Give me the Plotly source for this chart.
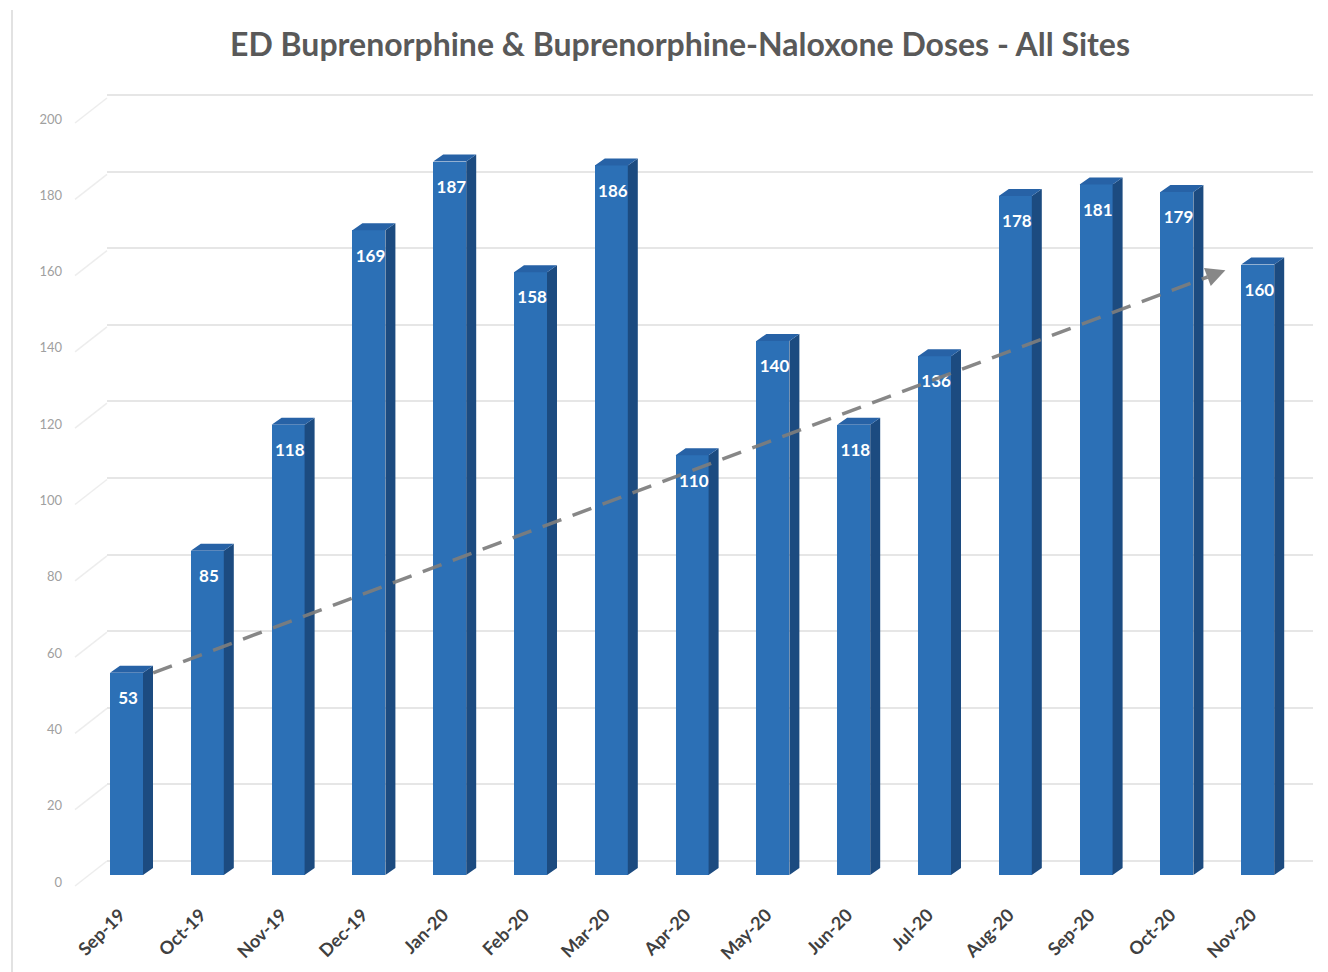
import plotly.graph_objects as go

# Monthly ED buprenorphine / buprenorphine-naloxone doses, all sites
months = ["Sep-19", "Oct-19", "Nov-19", "Dec-19", "Jan-20", "Feb-20", "Mar-20", "Apr-20",
          "May-20", "Jun-20", "Jul-20", "Aug-20", "Sep-20", "Oct-20", "Nov-20"]
doses = [53, 85, 118, 169, 187, 158, 186, 110, 140, 118, 136, 178, 181, 179, 160]
y_ticks = list(range(0, 201, 20))

W, H = 1328, 972
PLOT_L, PLOT_R, PLOT_T, PLOT_B = 107, 1313, 85, 900
FIRST_CENTER, STEP = 126.5, 80.8          # px of first bar centre, px per category
PX_PER_UNIT = 3.815                      # px per dose unit

# pixel baselines of the three depth planes (front labels, bars, back wall)
BASE_FRONT, BASE_BARS, BASE_BACK = 882, 875, 861


def x_range():
    return [(PLOT_L - FIRST_CENTER) / STEP, (PLOT_R - FIRST_CENTER) / STEP]


def y_range(base, scale=PX_PER_UNIT):
    return [(base - PLOT_B) / scale, (base - PLOT_T) / scale]


idx = list(range(len(months)))
half_w = 33 / STEP / 2           # half front-face width
dx = 10 / STEP                   # depth offset in x
dy = 7 / PX_PER_UNIT             # depth offset in y

FRONT = "#2c70b6"
SIDE = "#1c4b80"
TOP = "#2762a6"

fig = go.Figure()

# front faces
fig.add_trace(go.Bar(x=idx, y=doses, width=2 * half_w, yaxis="y2",
                     marker=dict(color=FRONT, line=dict(width=0)),
                     hoverinfo="x+y", showlegend=False))

# side faces and top faces of the columns
side_x, side_y, top_x, top_y = [], [], [], []
for i, v in zip(idx, doses):
    r = i + half_w
    side_x += [r, r + dx, r + dx, r, r, None]
    side_y += [0, dy, v + dy, v, 0, None]
    l = i - half_w
    top_x += [l, r, r + dx, l + dx, l, None]
    top_y += [v, v, v + dy, v + dy, v, None]

fig.add_trace(go.Scatter(x=side_x, y=side_y, yaxis="y2", mode="lines", fill="toself",
                         fillcolor=SIDE, line=dict(width=0, color=SIDE),
                         hoverinfo="skip", showlegend=False))
fig.add_trace(go.Scatter(x=top_x, y=top_y, yaxis="y2", mode="lines", fill="toself",
                         fillcolor=TOP, line=dict(width=0, color=TOP),
                         hoverinfo="skip", showlegend=False))

# value labels inside the top of each column
fig.add_trace(go.Scatter(x=[i + 0.02 for i in idx], y=[v - 27 / PX_PER_UNIT for v in doses],
                         yaxis="y2", mode="text", text=[str(v) for v in doses],
                         textfont=dict(family="Lato", size=17, color="white", weight="bold"),
                         hoverinfo="skip", showlegend=False))

# dashed trend arrow from the first month to the last
t_x0, t_x1 = idx[0] + 0.33, idx[-1] - 0.40
t_y0, t_y1 = doses[0], doses[-1] - 1.5
TREND = "rgba(125,125,125,0.92)"
head_len = 0.22
head_y = t_y1 - (t_y1 - t_y0) * head_len / (t_x1 - t_x0)
fig.add_trace(go.Scatter(x=[t_x0, t_x1 - head_len], y=[t_y0, head_y], yaxis="y2",
                         mode="lines", line=dict(color=TREND, width=3.5, dash="20px,12px"),
                         hoverinfo="skip", showlegend=False))
fig.add_annotation(x=t_x1, y=t_y1, xref="x", yref="y2",
                   ax=t_x1 - head_len, ay=head_y, axref="x", ayref="y2",
                   text="", showarrow=True, arrowhead=2, arrowsize=1.1,
                   arrowwidth=3.5, arrowcolor=TREND)

# diagonal connectors from the front tick labels to the back-wall gridlines
shapes = []
for v in y_ticks:
    shapes.append(dict(type="line", xref="paper", yref="y", xsizemode="scaled",
                       ysizemode="pixel", yanchor=v,
                       x0=(75 - PLOT_L) / (PLOT_R - PLOT_L), x1=0, y0=-4, y1=21,
                       line=dict(color="#ededed", width=1.5), layer="below"))
# thin frame line on the left
shapes.append(dict(type="line", xref="paper", yref="paper",
                   x0=(12 - PLOT_L) / (PLOT_R - PLOT_L), x1=(12 - PLOT_L) / (PLOT_R - PLOT_L),
                   y0=(PLOT_B - 10) / (PLOT_B - PLOT_T), y1=(PLOT_B - H) / (PLOT_B - PLOT_T),
                   line=dict(color="#e2e2e2", width=2), layer="below"))

fig.update_layout(
    width=W, height=H,
    margin=dict(l=PLOT_L, r=W - PLOT_R, t=PLOT_T, b=H - PLOT_B, autoexpand=False),
    paper_bgcolor="white", plot_bgcolor="white",
    title=dict(text="<b>ED Buprenorphine & Buprenorphine-Naloxone Doses - All Sites</b>",
               x=680 / W, xref="container", xanchor="center",
               y=1 - 45 / H, yref="container", yanchor="middle",
               font=dict(family="Lato", size=32, color="#595959")),
    xaxis=dict(range=x_range(), tickmode="array", tickvals=[i - 0.08 for i in idx],
               ticktext=months,
               tickangle=-45, showgrid=False, zeroline=False, showline=False, ticks="",
               tickfont=dict(family="Lato", size=18, color="#404040", weight="bold"),
               fixedrange=True),
    yaxis=dict(range=y_range(BASE_FRONT), tickmode="array", tickvals=y_ticks,
               showgrid=False, zeroline=False, showline=False, ticks="",
               ticklabelstandoff=44,
               tickfont=dict(family="Lato", size=13, color="#a0a0a0"), fixedrange=True),
    yaxis2=dict(range=y_range(BASE_BARS), overlaying="y", showgrid=False, zeroline=False,
                showticklabels=False, showline=False, ticks="", fixedrange=True),
    yaxis3=dict(range=y_range(BASE_BACK, 3.83), overlaying="y", showgrid=True,
                gridcolor="#e6e6e6", gridwidth=2, tickmode="array", tickvals=y_ticks,
                zeroline=False, showticklabels=False, showline=False, ticks="",
                fixedrange=True),
    shapes=shapes,
    bargap=0,
)

# invisible trace so the back-wall grid axis is drawn
fig.add_trace(go.Scatter(x=[idx[0]], y=[0], yaxis="y3", mode="markers",
                         marker=dict(opacity=0), hoverinfo="skip", showlegend=False))

fig.write_html("out.html")
